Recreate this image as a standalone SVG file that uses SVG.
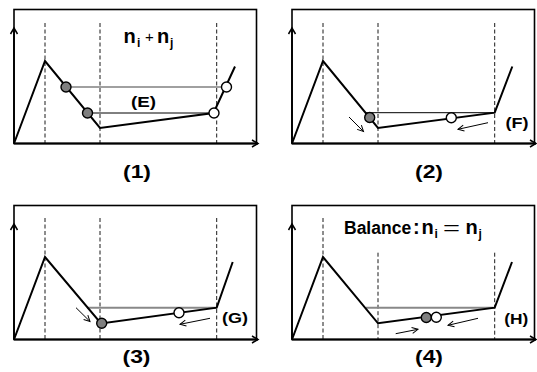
<svg xmlns="http://www.w3.org/2000/svg" width="537" height="372" viewBox="0 0 537 372">
<defs>
<style>
text{font-family:"Liberation Sans",Arial,sans-serif;font-weight:bold;fill:#000}
.box{fill:none;stroke:#000;stroke-width:1.6}
.axis{fill:none;stroke:#000;stroke-width:1.8}
.dash{fill:none;stroke:#000;stroke-width:0.9;stroke-dasharray:4,2.5}
.curve{fill:none;stroke:#000;stroke-width:2;stroke-linejoin:miter}
.lvl{fill:none;stroke:#000;stroke-width:1}
.lvlg{fill:none;stroke:#808080;stroke-width:1.4}
.lvlg2{fill:none;stroke:#888;stroke-width:2}
.ball{fill:#7f7f7f;stroke:#000;stroke-width:1.4}
.wball{fill:#fff;stroke:#000;stroke-width:1.4}
.arr{fill:none;stroke:#000;stroke-width:1;marker-end:url(#sa)}
.lbl{font-size:15px;text-anchor:middle}
.cap{font-size:17.5px;text-anchor:middle}
.big{font-size:20px}
.sub{font-size:12px}
</style>
<marker id="ax" markerWidth="10" markerHeight="10" refX="7" refY="5" orient="auto" markerUnits="userSpaceOnUse">
<path d="M1,1.5 L7,5 L1,8.5" fill="none" stroke="#000" stroke-width="1.5"/>
</marker>
<marker id="sa" markerWidth="10" markerHeight="10" refX="7" refY="5" orient="auto" markerUnits="userSpaceOnUse">
<path d="M1,2 L7,5 L1,8" fill="none" stroke="#000" stroke-width="1"/>
</marker>
</defs>

<!-- Panel 1 -->
<g id="panel1">
<rect class="box" x="14" y="9.5" width="242.5" height="134"/>
<line class="dash" x1="45" y1="23" x2="45" y2="143"/>
<line class="dash" x1="100" y1="23" x2="100" y2="143"/>
<line class="dash" x1="216.7" y1="23" x2="216.7" y2="143"/>
<line class="axis" x1="14" y1="143.5" x2="14" y2="28" marker-end="url(#ax)"/>
<line class="axis" x1="14" y1="143.5" x2="258" y2="143.5" marker-end="url(#ax)"/>
<line class="lvlg" x1="66" y1="87" x2="227" y2="87"/>
<line class="lvl" x1="87" y1="113" x2="214" y2="113"/>
<path class="curve" d="M14,143.5 L45,61 L100,128 L213.5,113 L235,66.5"/>
<circle class="ball" cx="66" cy="87" r="5"/>
<circle class="ball" cx="87.5" cy="113" r="5"/>
<circle class="wball" cx="226.5" cy="87" r="5"/>
<circle class="wball" cx="214" cy="113" r="5"/>
<text class="big" x="123.5" y="43">n<tspan class="sub" x="137" y="47">i</tspan><tspan x="145" y="42" font-size="15" font-weight="normal">+</tspan><tspan x="157" y="43">n</tspan><tspan class="sub" x="170" y="47">j</tspan></text>
<text class="lbl" x="143.5" y="106.5" textLength="25" lengthAdjust="spacingAndGlyphs">(E)</text>
<text class="cap" x="137" y="177.5" textLength="28" lengthAdjust="spacingAndGlyphs">(1)</text>
</g>

<!-- Panel 2 -->
<g id="panel2">
<rect class="box" x="292" y="9.5" width="242.5" height="134"/>
<line class="dash" x1="323" y1="23" x2="323" y2="143"/>
<line class="dash" x1="378" y1="23" x2="378" y2="143"/>
<line class="dash" x1="494.7" y1="23" x2="494.7" y2="143"/>
<line class="axis" x1="292" y1="143.5" x2="292" y2="28" marker-end="url(#ax)"/>
<line class="axis" x1="292" y1="143.5" x2="536" y2="143.5" marker-end="url(#ax)"/>
<line class="lvl" x1="365" y1="112.7" x2="494.7" y2="112.7"/>
<path class="curve" d="M292,143.5 L323,61 L378,128 L494.7,112.7 L512.3,66.5"/>
<circle class="ball" cx="369.7" cy="117.5" r="5"/>
<circle class="wball" cx="451.3" cy="117.8" r="5"/>
<line class="arr" x1="349" y1="117" x2="363.5" y2="131.5"/>
<line class="arr" x1="488" y1="122.7" x2="458" y2="129.3"/>
<text class="lbl" x="517" y="127.5" textLength="23" lengthAdjust="spacingAndGlyphs">(F)</text>
<text class="cap" x="429" y="177.5" textLength="28" lengthAdjust="spacingAndGlyphs">(2)</text>
</g>

<!-- Panel 3 -->
<g id="panel3">
<rect class="box" x="14" y="205.5" width="242.5" height="134"/>
<line class="dash" x1="45" y1="218" x2="45" y2="339"/>
<line class="dash" x1="100" y1="218" x2="100" y2="339"/>
<line class="dash" x1="216.7" y1="218" x2="216.7" y2="339"/>
<line class="axis" x1="14" y1="339.5" x2="14" y2="224" marker-end="url(#ax)"/>
<line class="axis" x1="14" y1="339.5" x2="258" y2="339.5" marker-end="url(#ax)"/>
<line class="lvlg2" x1="87" y1="307.7" x2="216.7" y2="307.7"/>
<path class="curve" d="M14,339.5 L45,257 L101,323.5 L216.7,307.7 L232.7,262"/>
<circle class="ball" cx="101.7" cy="323.3" r="5"/>
<circle class="wball" cx="179" cy="312.7" r="5"/>
<line class="arr" x1="76" y1="307.7" x2="90" y2="321.5"/>
<line class="arr" x1="210" y1="318.3" x2="180" y2="324.3"/>
<text class="lbl" x="235" y="322.5" textLength="26" lengthAdjust="spacingAndGlyphs">(G)</text>
<text class="cap" x="136.5" y="363" textLength="28" lengthAdjust="spacingAndGlyphs">(3)</text>
</g>

<!-- Panel 4 -->
<g id="panel4">
<rect class="box" x="292" y="205.5" width="242.5" height="134"/>
<line class="dash" x1="323" y1="218" x2="323" y2="339"/>
<line class="dash" x1="378" y1="252.7" x2="378" y2="339"/>
<line class="dash" x1="494.7" y1="252.7" x2="494.7" y2="339"/>
<line class="axis" x1="292" y1="339.5" x2="292" y2="224" marker-end="url(#ax)"/>
<line class="axis" x1="292" y1="339.5" x2="536" y2="339.5" marker-end="url(#ax)"/>
<line class="lvlg2" x1="366" y1="307.7" x2="494.7" y2="307.7"/>
<path class="curve" d="M292,339.5 L323,257 L378,323.3 L494.7,307.7 L512,262"/>
<circle class="ball" cx="426.3" cy="317.5" r="5"/>
<circle class="wball" cx="436.3" cy="317.3" r="5"/>
<line class="arr" x1="395.7" y1="333.7" x2="418" y2="329.3"/>
<line class="arr" x1="478" y1="318.3" x2="448" y2="325.3"/>
<text class="lbl" x="516.3" y="323.5" textLength="24" lengthAdjust="spacingAndGlyphs">(H)</text>
<text class="big" x="344" y="233.5"><tspan x="344" y="233.5" font-size="17.5">Balance</tspan><tspan x="413" y="233.5">:</tspan><tspan x="421.5" y="233.5">n</tspan><tspan class="sub" x="434.5" y="238">i</tspan><tspan x="443" y="234" font-size="18" font-weight="normal" textLength="17" lengthAdjust="spacingAndGlyphs">=</tspan><tspan x="465.5" y="233.5">n</tspan><tspan class="sub" x="478.5" y="238">j</tspan></text>
<text class="cap" x="429" y="363" textLength="28" lengthAdjust="spacingAndGlyphs">(4)</text>
</g>
</svg>
